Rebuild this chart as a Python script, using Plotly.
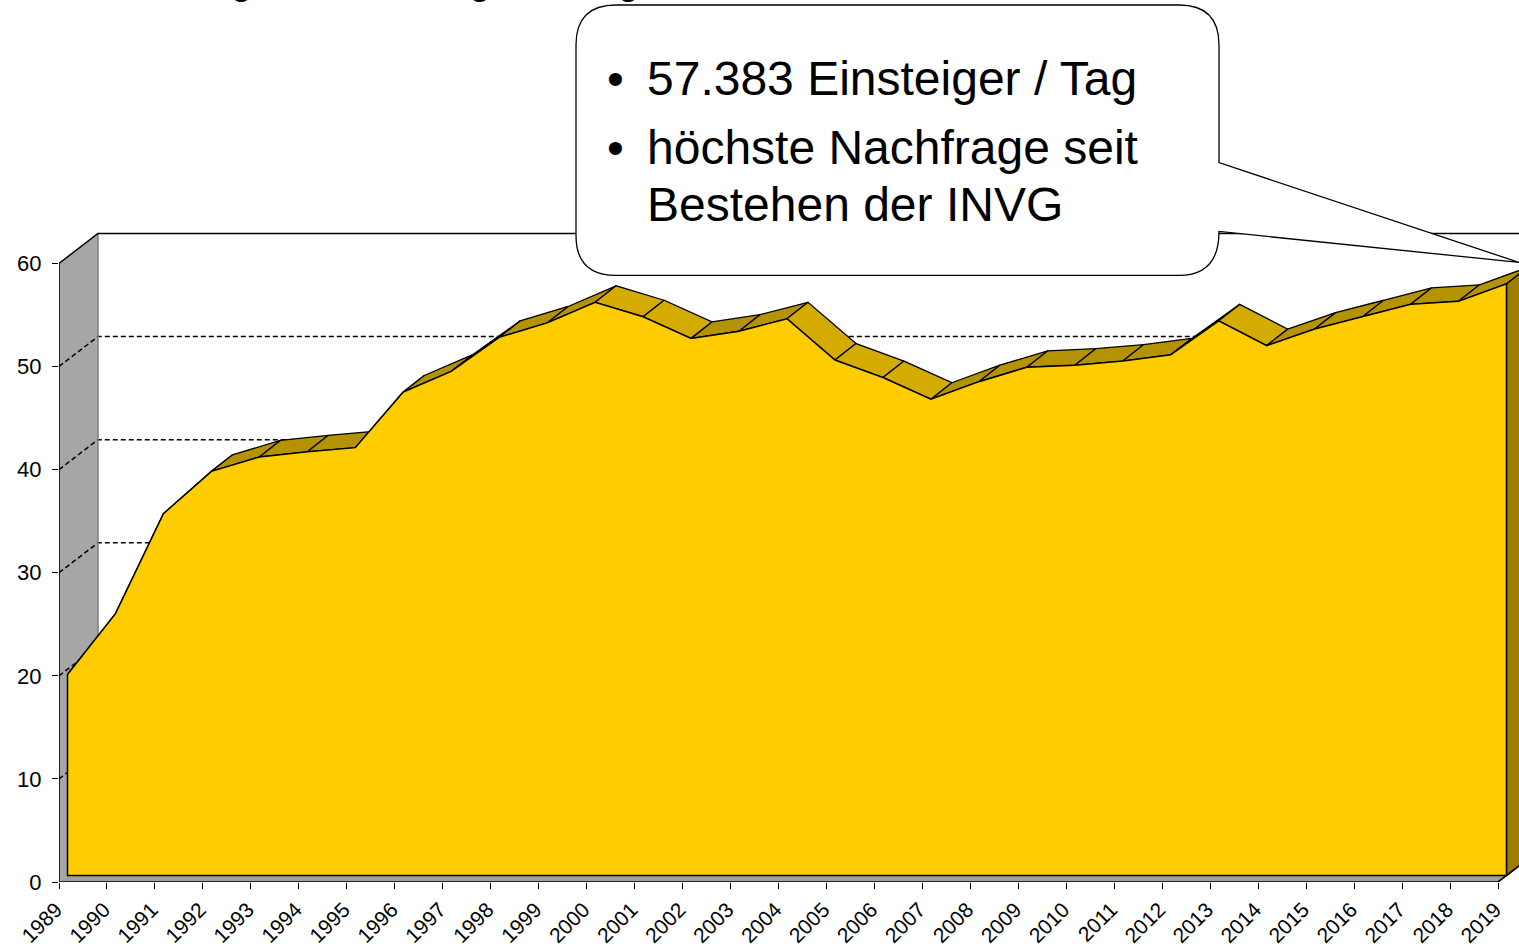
import plotly.graph_objects as go

# ---------------- data ----------------
years = list(range(1989, 2020))
# Einsteiger pro Tag (in Tausend)
values = [19.5, 25.4, 35.1, 39.2, 40.6, 41.1, 41.5, 46.9, 48.9, 52.2,
          53.6, 55.6, 54.2, 52.1, 52.8, 54.0, 50.0, 48.3, 46.2, 47.9,
          49.3, 49.5, 49.9, 50.5, 53.8, 51.4, 53.0, 54.2, 55.4, 55.7, 57.383]
y_ticks = [0, 10, 20, 30, 40, 50, 60]
x_labels = [str(y) for y in years]
callout_lines = ["57.383 Einsteiger / Tag", "höchste Nachfrage seit", "Bestehen der INVG"]
title_text = "Fahrgastentwicklung: Einsteiger"

# ---------------- geometry ----------------
W, H = 1519, 947
ML, MB = 59, 63
plot_w, plot_h = W - ML, H - MB
PXY = 1439 / 30.0      # px per year
PXV = 620 / 60.0       # px per unit
x_range = [years[0], years[0] + plot_w / PXY]
y_range = [0, plot_h / PXV]

def dx(px):
    return px / PXY

def dy(px):
    return px / PXV

WALL = (dx(39), dy(30))
FRONT = (dx(8.5), dy(6.5))
BACK = (dx(29.5), dy(23))

X0, X1 = years[0], years[-1]
YMAX = y_ticks[-1]

fig = go.Figure()

def poly(xs, ys, fill=None, line="black", width=1.3, dash="solid", close=True):
    if close:
        xs = list(xs) + [xs[0]]
        ys = list(ys) + [ys[0]]
    fig.add_trace(go.Scatter(
        x=xs, y=ys, mode="lines",
        fill="toself" if fill else None,
        fillcolor=fill,
        line=dict(color=line, width=width, dash=dash),
        hoverinfo="skip", showlegend=False))

# left side wall
poly([X0, X0, X0 + WALL[0], X0 + WALL[0]], [0, YMAX, YMAX + WALL[1], WALL[1]],
     fill="#A6A6A6", line="rgba(0,0,0,0)", width=0)
# gridlines (left wall + back wall)
for v in y_ticks[1:-1]:
    poly([X0, X0 + WALL[0], X1 + WALL[0] + 2], [v, v + WALL[1], v + WALL[1]],
         line="black", width=1.5, dash="5px,3px", close=False)
# back wall left edge
poly([X0 + WALL[0], X0 + WALL[0]], [WALL[1], YMAX + WALL[1]],
     line="#7F7F7F", width=1.5, close=False)
# top edges
poly([X0, X0 + WALL[0], X1 + WALL[0] + 2], [YMAX, YMAX + WALL[1], YMAX + WALL[1]],
     line="black", width=1.5, close=False)
# floor
poly([X0, X1, X1 + WALL[0], X0 + WALL[0]], [0, 0, WALL[1], WALL[1]],
     fill="#A0A0A0", line="rgba(0,0,0,0)", width=0)
# left wall front edge (y axis line)
poly([X0, X0], [0, YMAX], line="black", width=1.6, close=False)

# ---------------- 3D area ----------------
fx = [x + FRONT[0] for x in years]
fy = [v + FRONT[1] for v in values]
bx = [x + BACK[0] for x in years]
by = [v + BACK[1] for v in values]

for i in range(len(years) - 1):
    up = values[i + 1] > values[i]
    poly([fx[i], fx[i + 1], bx[i + 1], bx[i]], [fy[i], fy[i + 1], by[i + 1], by[i]],
         fill="#B59300" if up else "#D4AB00", line="black", width=1.3)

# right side face
poly([fx[-1], fx[-1], bx[-1], bx[-1]], [FRONT[1], fy[-1], by[-1], BACK[1]],
     fill="#9E7E00", line="black", width=1.3)

# front face
poly(fx + [fx[-1], fx[0]], fy + [FRONT[1], FRONT[1]],
     fill="#FFCC00", line="black", width=1.5)

# floor front edge
poly([X0, X1, X1 + WALL[0]], [0, 0, WALL[1]], line="black", width=1.6, close=False)

# ---------------- callout ----------------
def px2paper(px, py):
    return (px - ML) / plot_w, (plot_h - py) / plot_h

pts = [("M", 616, 5), ("L", 1179, 5), ("Q", 1219, 5, 1219, 45), ("L", 1219, 163),
       ("L", 1519, 263), ("L", 1219, 232), ("Q", 1219, 276, 1179, 276),
       ("L", 616, 276), ("Q", 576, 276, 576, 236), ("L", 576, 45),
       ("Q", 576, 5, 616, 5)]
path = ""
for p in pts:
    cmd = p[0]
    coords = p[1:]
    s = []
    for k in range(0, len(coords), 2):
        a, b = px2paper(coords[k], coords[k + 1])
        s.append(f"{a:.5f},{b:.5f}")
    path += cmd + " " + " ".join(s) + " "
path += "Z"
fig.add_shape(type="path", path=path, xref="paper", yref="paper",
              fillcolor="white", line=dict(color="black", width=1.3), layer="above")

FONT = "Liberation Sans, Arial, sans-serif"
FS = 48
line_centers = [79, 148, 205]   # vertical centers (pixels) of the text lines
for idx, (txt, cy) in enumerate(zip(callout_lines, line_centers)):
    xa, ya = px2paper(645, cy)
    fig.add_annotation(x=xa, y=ya, xref="paper", yref="paper", text=txt,
                       showarrow=False, xanchor="left", yanchor="middle",
                       font=dict(family=FONT, size=FS, color="black"))
    if idx < 2:
        xb, yb = px2paper(615, cy)
        fig.add_annotation(x=xb, y=yb, xref="paper", yref="paper", text="•",
                           showarrow=False, xanchor="center", yanchor="middle",
                           font=dict(family=FONT, size=FS, color="black"))

# partially visible slide title (only descenders show)
xt, yt = px2paper(158, 4)
fig.add_annotation(x=xt, y=yt, xref="paper", yref="paper", text=f"<b>{title_text}</b>",
                   showarrow=False, xanchor="left", yanchor="bottom",
                   font=dict(family=FONT, size=33, color="black"))

# ---------------- layout ----------------
fig.update_layout(
    width=W, height=H,
    margin=dict(l=ML, r=0, t=0, b=MB, pad=0),
    paper_bgcolor="white", plot_bgcolor="white",
    showlegend=False, hovermode=False,
    xaxis=dict(range=x_range, tickvals=years, ticktext=x_labels, tickangle=-45,
               ticks="outside", ticklen=6, tickwidth=1.3, tickcolor="black",
               ticklabelshift=-3,
               showgrid=False, zeroline=False, showline=False,
               tickfont=dict(family=FONT, size=21, color="black"), fixedrange=True),
    yaxis=dict(range=y_range, tickvals=y_ticks, ticktext=[str(t) for t in y_ticks],
               ticks="outside", ticklen=6, tickwidth=1.3, tickcolor="black",
               ticklabelstandoff=6,
               showgrid=False, zeroline=False, showline=False,
               tickfont=dict(family=FONT, size=22, color="black"), fixedrange=True),
)

fig.write_html("out.html", config={"displayModeBar": False},
               post_script="document.body.style.margin='0';document.body.style.overflow='hidden';")
